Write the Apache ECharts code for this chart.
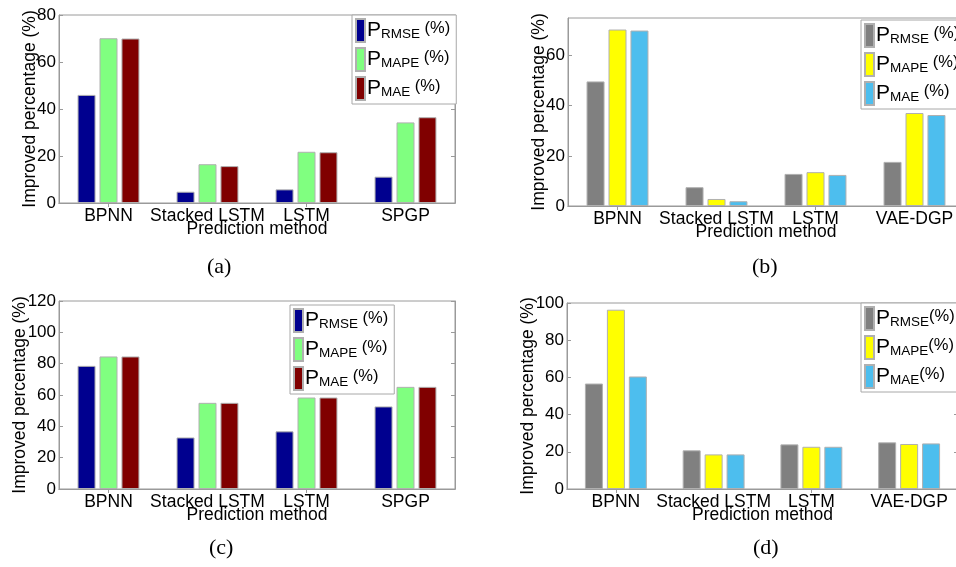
<!DOCTYPE html>
<html>
<head>
<meta charset="utf-8">
<script src="https://cdn.jsdelivr.net/npm/echarts@6/dist/echarts.min.js"></script>
<style>
html,body{margin:0;padding:0;background:#fff;}
#chart{width:956px;height:567px;}
</style>
</head>
<body>
<div id="chart"></div>
<script>
// ---- data ----
const categoriesAC = ['BPNN', 'Stacked LSTM', 'LSTM', 'SPGP'];
const categoriesBD = ['BPNN', 'Stacked LSTM', 'LSTM', 'VAE-DGP'];

const a_rmse = [46.0, 4.8, 5.8, 11.2];
const a_mape = [70.1, 16.5, 21.8, 34.3];
const a_mae  = [70.0, 15.7, 21.6, 36.5];

const b_rmse = [49.7, 7.5, 12.8, 17.6];
const b_mape = [70.4, 2.8, 13.5, 37.1];
const b_mae  = [70.0, 1.9, 12.4, 36.3];

const c_rmse = [78.6, 32.9, 36.8, 52.7];
const c_mape = [84.6, 55.0, 58.4, 65.2];
const c_mae  = [84.6, 55.0, 58.4, 65.2];

const d_rmse = [56.7, 20.8, 24.0, 25.1];
const d_mape = [96.4, 18.6, 22.7, 24.2];
const d_mae  = [60.5, 18.6, 22.7, 24.5];

const yMaxA = 80, yMaxB = 75, yMaxC = 120, yMaxD = 100;
const yInterval = 20;

const metricKeys = ['RMSE', 'MAPE', 'MAE'];
const panelLabels = ['(a)', '(b)', '(c)', '(d)'];
const yAxisTitle = 'Improved percentage (%)';
const xAxisTitle = 'Prediction method';

// ---- styling / layout ----
const FONT = 'Liberation Sans, Arial, sans-serif';
const colorsAC = ['#00008F', '#80FF80', '#800000'];
const colorsBD = ['#808080', '#FFFF00', '#4DBEEE'];
const axisGray = '#9a9a9a';

const panels = [
  {id:'a', cats: categoriesAC, vals:[a_rmse,a_mape,a_mae], max:yMaxA, colors:colorsAC, space:' ', nameGap:20,
   grid:{left:59, top:15, width:396, height:188}, legend:{left:352, top:15}, label:{x:221, y:269}},
  {id:'b', cats: categoriesBD, vals:[b_rmse,b_mape,b_mae], max:yMaxB, colors:colorsBD, space:' ', nameGap:20,
   grid:{left:568, top:18, width:396, height:188}, legend:{left:861, top:20}, label:{x:766, y:269}},
  {id:'c', cats: categoriesAC, vals:[c_rmse,c_mape,c_mae], max:yMaxC, colors:colorsAC, space:' ', nameGap:30,
   grid:{left:59, top:301, width:396, height:188}, legend:{left:290, top:305}, label:{x:223, y:550}},
  {id:'d', cats: categoriesBD, vals:[d_rmse,d_mape,d_mae], max:yMaxD, colors:colorsBD, space:'', nameGap:30,
   grid:{left:567, top:303, width:391, height:186}, legend:{left:861, top:303}, label:{x:767, y:550}}
];

const grids = [], xAxes = [], yAxes = [], series = [], legends = [], graphics = [];

panels.forEach((p, i) => {
  grids.push(Object.assign({show:true, borderColor:axisGray, borderWidth:1, outerBoundsMode:'none', containLabel:false}, p.grid));
  xAxes.push({
    type:'category', gridIndex:i, data:p.cats, position:'bottom',
    axisLine:{show:true, lineStyle:{color:axisGray}},
    axisTick:{show:true, inside:true, alignWithLabel:true, length:4, lineStyle:{color:axisGray}},
    axisLabel:{color:'#000', fontSize:17.5, fontFamily:FONT, margin:4, interval:0},
    name:xAxisTitle, nameLocation:'middle', nameGap:17, nameMoveOverlap:false,
    nameTextStyle:{color:'#000', fontSize:17.5, fontFamily:FONT}
  });
  xAxes.push({
    type:'category', gridIndex:i, data:p.cats, position:'top',
    axisLine:{show:true, lineStyle:{color:axisGray}},
    axisTick:{show:true, inside:true, alignWithLabel:true, length:4, lineStyle:{color:axisGray}},
    axisLabel:{show:false}
  });
  yAxes.push({
    type:'value', gridIndex:i, min:0, max:p.max, interval:yInterval, position:'left',
    splitLine:{show:false},
    axisLine:{show:true, lineStyle:{color:axisGray}},
    axisTick:{show:true, inside:true, length:4, lineStyle:{color:axisGray}},
    axisLabel:{color:'#000', fontSize:17, fontFamily:FONT, margin:3, showMaxLabel: (p.max % yInterval === 0)},
    name:yAxisTitle, nameLocation:'middle', nameGap:p.nameGap, nameRotate:90, nameMoveOverlap:false,
    nameTextStyle:{color:'#000', fontSize:17.5, fontFamily:FONT}
  });
  yAxes.push({
    type:'value', gridIndex:i, min:0, max:p.max, interval:yInterval, position:'right',
    splitLine:{show:false},
    axisLine:{show:true, lineStyle:{color:axisGray}},
    axisTick:{show:true, inside:true, length:4, lineStyle:{color:axisGray}},
    axisLabel:{show:false}
  });
  const names = [];
  metricKeys.forEach((k, j) => {
    const nm = p.id + '_' + k;
    names.push(nm);
    series.push({
      type:'bar', name:nm, xAxisIndex:2*i, yAxisIndex:2*i, data:p.vals[j],
      barWidth:18, barGap:'22%',
      itemStyle:{color:p.colors[j], borderColor:'#b0b0b0', borderWidth:1},
      emphasis:{disabled:true}, animation:false
    });
  });
  const space = p.space;
  legends.push({
    orient:'vertical', left:p.legend.left, top:p.legend.top,
    data:names, selectedMode:false,
    itemWidth:9, itemHeight:23, itemGap:4,
    padding:[3, 6, 3, 3],
    borderColor:'#a8a8a8', borderWidth:1, backgroundColor:'#fff',
    icon:'rect',
    formatter: nm => {
      const k = nm.split('_')[1];
      return '{p|P}{s|' + k + '}{t|' + space + '(%)}';
    },
    textStyle:{
      padding:[0,0,0,-3],
      rich:{
        p:{fontSize:21, fontFamily:FONT, color:'#000', lineHeight:21, verticalAlign:'top'},
        s:{fontSize:13.5, fontFamily:FONT, color:'#000', lineHeight:13, verticalAlign:'bottom'},
        t:{fontSize:16.5, fontFamily:FONT, color:'#000', lineHeight:16, verticalAlign:'top'}
      }
    }
  });
  graphics.push({
    type:'text', left:p.label.x - 14, top:p.label.y - 13,
    style:{text:panelLabels[i], font:'22px "Liberation Serif", "Times New Roman", serif', fill:'#000'}
  });
});

const chart = echarts.init(document.getElementById('chart'), null, {renderer:'canvas'});
chart.setOption({
  animation:false,
  backgroundColor:'#fff',
  grid:grids, xAxis:xAxes, yAxis:yAxes, series:series, legend:legends, graphic:graphics
});
</script>
</body>
</html>
